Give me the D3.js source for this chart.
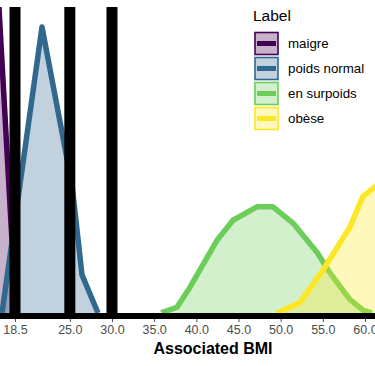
<!DOCTYPE html>
<html><head><meta charset="utf-8">
<script src="https://cdn.jsdelivr.net/npm/d3@7"></script>
<style>html,body{margin:0;padding:0;background:#fff;}svg{display:block;}</style>
</head><body>
<script>
// ---- data ----
const labels = ["maigre", "poids normal", "en surpoids", "obèse"];
const colors = ["#440154", "#31688E", "#6CCD5A", "#FDE725"];
const maigreBMI = [14.5, 16.6, 18.62];
const maigreDens = [0.0, 0.319, 0.0];
const normalBMI = [16.96, 21.70, 25.26, 26.44, 28.34];
const normalDens = [0.0, 0.299, 0.134, 0.040, 0.0];
const surpoidsBMI = [35.9, 36.05, 37.71, 39.25, 42.45, 44.35, 47.19, 49.09, 51.46, 54.35, 55.85, 58.22, 59.76, 60.83];
const surpoidsDens = [0.0, 0.001, 0.006, 0.027, 0.076, 0.097, 0.111, 0.111, 0.094, 0.063, 0.042, 0.014, 0.003, 0.0];
const obeseBMI = [49.56, 52.29, 55.02, 58.22, 59.76, 61.18, 64.15];
const obeseDens = [0.0, 0.011, 0.045, 0.090, 0.122, 0.132, 0.152];
const cutoffs = [18.5, 25, 30];
const tickValues = [18.5, 25, 30, 35, 40, 45, 50, 55, 60];
const xTitle = "Associated BMI";
const legendTitle = "Label";

const series = [
  {bmi: maigreBMI, dens: maigreDens},
  {bmi: normalBMI, dens: normalDens},
  {bmi: surpoidsBMI, dens: surpoidsDens},
  {bmi: obeseBMI, dens: obeseDens}
];

const W = 375, H = 366;
const svg = d3.select("body").append("svg").attr("width", W).attr("height", H)
  .style("font-family", "'Liberation Sans', Arial, sans-serif");

const x = d3.scaleLinear().domain([18.5, 60]).range([15, 365]);
const y = d3.scaleLinear().domain([0, 0.32]).range([313, 7]);

svg.append("clipPath").attr("id", "panel").append("rect")
  .attr("x", 0).attr("y", 7).attr("width", W).attr("height", 309);

const g = svg.append("g").attr("clip-path", "url(#panel)");

const area = d3.area().x(d => x(d[0])).y0(y(0)).y1(d => y(d[1]));
const line = d3.line().x(d => x(d[0])).y(d => y(d[1]));

series.forEach((s, i) => {
  const pts = s.bmi.map((b, j) => [b, s.dens[j]]);
  g.append("path").attr("d", area(pts)).attr("fill", colors[i]).attr("fill-opacity", 0.3);
  g.append("path").attr("d", line(pts)).attr("fill", "none").attr("stroke", colors[i])
    .attr("stroke-width", 5.5).attr("stroke-linejoin", "round");
});

// cutoff lines
g.selectAll("line.cut").data(cutoffs).enter().append("line")
  .attr("x1", d => x(d)).attr("x2", d => x(d))
  .attr("y1", 7).attr("y2", 316)
  .attr("stroke", "#000").attr("stroke-width", 11);

// axis
const axis = d3.axisBottom(x).tickValues(tickValues).tickFormat(d3.format(".1f")).tickSize(3).tickPadding(3);
const ax = svg.append("g").attr("transform", "translate(0,319)").call(axis);
ax.select(".domain").remove();
ax.selectAll(".tick line").attr("stroke", "#4d4d4d").attr("stroke-width", 1);
ax.selectAll(".tick text").attr("fill", "#4d4d4d").style("font-size", "12.5px")
  .style("font-family", "'Liberation Sans', Arial, sans-serif");

svg.append("line").attr("x1", 0).attr("x2", W).attr("y1", 316).attr("y2", 316)
  .attr("stroke", "#000").attr("stroke-width", 6);

svg.append("text").attr("x", 213).attr("y", 354).attr("text-anchor", "middle")
  .style("font-size", "16px").style("font-weight", "bold").attr("fill", "#000").text(xTitle);

// legend
const lg = svg.append("g");
lg.append("text").attr("x", 253).attr("y", 21).style("font-size", "15.5px").attr("fill", "#000").text(legendTitle);
labels.forEach((lab, i) => {
  const ky = 31.5 + i * 25;
  lg.append("rect").attr("x", 254).attr("y", ky).attr("width", 25).attr("height", 24)
    .attr("fill", "#fff");
  lg.append("rect").attr("x", 255).attr("y", ky + 1).attr("width", 23).attr("height", 22)
    .attr("fill", colors[i]).attr("fill-opacity", 0.3)
    .attr("stroke", colors[i]).attr("stroke-width", 1.6);
  lg.append("line").attr("x1", 257).attr("x2", 276).attr("y1", ky + 12).attr("y2", ky + 12)
    .attr("stroke", colors[i]).attr("stroke-width", 5);
  lg.append("text").attr("x", 288).attr("y", ky + 16.5).style("font-size", "13.3px").attr("fill", "#000").text(lab);
});
</script>
</body></html>
